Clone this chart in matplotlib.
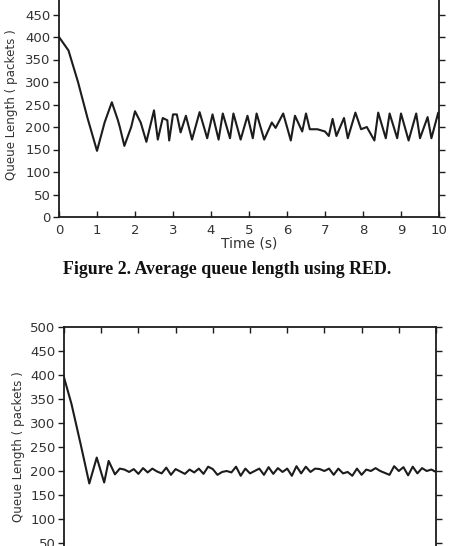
import numpy as np
import matplotlib
matplotlib.use('Agg')
import matplotlib.pyplot as plt

# Figure 2 (RED): average queue length, peaks and troughs
red_t = [0.0, 0.25, 0.5, 0.75, 1.0, 1.2, 1.39, 1.55, 1.6, 1.72, 1.9, 2.0, 2.15,
         2.3, 2.5, 2.6, 2.73, 2.85, 2.9, 3.0, 3.1, 3.2, 3.34, 3.5, 3.7, 3.9,
         4.04, 4.2, 4.31, 4.5, 4.59, 4.78, 4.96, 5.1, 5.2, 5.4, 5.6, 5.7, 5.9,
         6.1, 6.21, 6.4, 6.5, 6.6, 6.8, 7.0, 7.1, 7.2, 7.3, 7.5, 7.6, 7.8,
         7.95, 8.1, 8.3, 8.4, 8.6, 8.7, 8.9, 9.0, 9.2, 9.4, 9.5, 9.7, 9.8,
         9.98, 10.0]
red_q = [400, 370, 300, 220, 147, 210, 255, 215, 200, 158, 200, 235, 210,
         167, 237, 172, 220, 215, 170, 228, 228, 188, 225, 172, 233, 175,
         228, 172, 230, 175, 230, 172, 225, 175, 230, 172, 210, 198, 230,
         170, 225, 190, 230, 195, 195, 190, 180, 218, 180, 220, 175, 232,
         195, 200, 170, 232, 175, 230, 175, 230, 170, 230, 175, 222, 175,
         232, 220]

# second scheme: fast settling, small wiggle round 200
new_t0 = [0.0, 0.2, 0.45, 0.68, 0.88, 1.08, 1.2, 1.37]
new_q0 = [395, 340, 255, 174, 228, 176, 221, 193]
new_q1 = [205, 203, 198, 204, 194, 206, 197, 205, 199, 195, 207, 192, 204,
          199, 194, 203, 197, 205, 194, 209, 204, 192, 198, 200, 197, 209,
          190, 205, 195, 200, 205, 192, 208, 194, 206, 198, 205, 190, 210,
          195, 209, 198, 205, 204, 200, 205, 192, 205, 195, 198, 190, 205,
          192, 203, 200, 206, 200, 196, 192, 210, 200, 208, 191, 209, 195,
          206, 200, 203, 198]

yticks = [0, 50, 100, 150, 200, 250, 300, 350, 400, 450, 500]
xticks = list(range(0, 11))

plt.rcParams['font.family'] = ['DejaVu Sans']
ink = '#1c1c1c'
grey = '#333333'
W, H = 454, 546

fig = plt.figure(figsize=(W / 100, H / 100), dpi=100)


def style(ax, labelpad):
    ax.set_xlim(0, 10)
    ax.set_ylim(0, 500)
    ax.set_xticks(xticks)
    ax.set_yticks(yticks)
    ax.tick_params(axis='x', direction='in', length=4, width=1, colors=ink,
                   labelcolor=grey, labelsize=9.5, top=True, pad=5)
    ax.tick_params(axis='y', which='both', left=False, right=True,
                   direction='in', length=4, width=1, colors=ink,
                   labelcolor=grey, labelsize=9.5, pad=2)
    # left ticks in the scan sit outside the box
    ax.tick_params(axis='y', left=True, direction='out')
    ax.tick_params(axis='y', right=True)
    for s in ax.spines.values():
        s.set_linewidth(1.3)
        s.set_color(ink)
    ax.set_ylabel('Queue Length ( packets )', fontsize=8.6, color=grey,
                  labelpad=labelpad)


# top panel (cut off at the top edge of the scan)
ax1 = fig.add_axes([59 / W, (H - 217) / H, 380 / W, 225 / H])
ax1.plot(red_t, red_q, color=ink, lw=1.5)
style(ax1, 5)
ax1.set_yticklabels([str(v) for v in yticks[:-1]] + [''])
ax1.set_xlabel('Time (s)', fontsize=10, color=grey, labelpad=0)

fig.text(0.5, 1 - 274 / H, 'Figure 2. Average queue length using RED.',
         ha='center', va='baseline', fontsize=12.9, fontweight='bold',
         family='Liberation Serif', color='#111111')

# bottom panel (cut off at the bottom edge)
new_t = new_t0 + list(np.arange(1.5, 10.01, 0.125))
new_q = new_q0 + new_q1
ax2 = fig.add_axes([64 / W, (H - 567) / H, 372 / W, 240 / H])
ax2.plot(new_t, new_q, color=ink, lw=1.5)
style(ax2, 4)
ax2.tick_params(axis='x', labelbottom=False)

fig.savefig('out.png', dpi=100)
